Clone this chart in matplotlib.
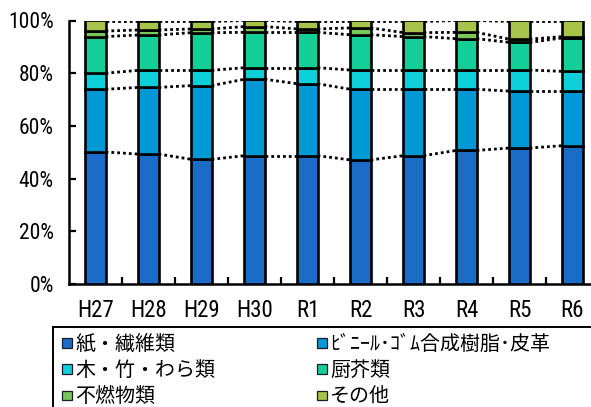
import matplotlib
matplotlib.use("Agg")
import matplotlib.pyplot as plt
from matplotlib.patches import Patch, Rectangle
import numpy as np

# Share of household waste by component (%), fiscal years H27 to R6
years = ["H27", "H28", "H29", "H30", "R1", "R2", "R3", "R4", "R5", "R6"]
paper = [50.1, 49.3, 47.3, 48.7, 48.7, 47.1, 48.7, 50.7, 51.6, 52.5]
vinyl = [23.8, 25.3, 28.0, 29.0, 27.3, 26.8, 25.2, 23.2, 21.6, 20.7]
wood = [6.1, 6.5, 5.8, 4.4, 6.1, 7.3, 7.3, 7.3, 8.0, 7.5]
kitchen = [13.9, 13.4, 14.3, 13.4, 13.4, 13.4, 12.7, 11.9, 10.5, 12.7]
incombustible = [2.1, 1.9, 1.4, 2.2, 1.3, 2.6, 1.5, 2.4, 1.2, 0.5]
other = [4.0, 3.6, 3.2, 2.3, 3.2, 2.8, 4.6, 4.5, 7.1, 6.1]

labels = ["紙・繊維類", "ﾋﾞﾆｰﾙ･ｺﾞﾑ合成樹脂･皮革", "木・竹・わら類",
          "厨芥類", "不燃物類", "その他"]
colors = ["#1A6CC6", "#0099D6", "#0CCFD9", "#13CE96", "#7AC75A", "#A6C34A"]

series = [paper, vinyl, wood, kitchen, incombustible, other]

W, H = 591, 407
fig = plt.figure(figsize=(W / 100, H / 100), dpi=100)
ax = fig.add_axes([69 / W, 1 - 284 / H, 530 / W, 263.5 / H])

tick_font = ["Roboto Condensed", "Open Sans Condensed", "DejaVu Sans"]
cjk_font = ["Noto Sans CJK JP", "DejaVu Sans"]

x = np.arange(len(years))
bw = 0.38
bottom = np.zeros(len(years))
tops = []
for vals, col, lab in zip(series, colors, labels):
    v = np.array(vals)
    ax.bar(x, v, bw, bottom=bottom, color=col, edgecolor="black",
           linewidth=1.9, label=lab, zorder=3)
    bottom = bottom + v
    tops.append(bottom.copy())

# dotted connectors between neighbouring bars at each boundary
for lvl in tops:
    for i in range(len(years) - 1):
        ax.plot([x[i] + bw / 2, x[i + 1] - bw / 2], [lvl[i], lvl[i + 1]],
                color="black", linewidth=2.0, linestyle=(0, (1, 1.1)),
                zorder=2, dash_capstyle="butt")

ax.set_xlim(-0.5, len(years) - 0.5)
ax.set_ylim(0, 100)
ax.set_yticks(np.arange(0, 101, 20))
ax.set_yticklabels([f"{v}%" for v in range(0, 101, 20)],
                   family=tick_font, fontsize=15.5, fontstretch="condensed")
ax.set_xticks(x)
ax.set_xticklabels(years, family=tick_font, fontsize=16.5,
                   fontstretch="condensed")
ax.set_xticks(x[:-1] + 0.5, minor=True)
ax.tick_params(axis="x", which="major", length=0, pad=11)
ax.tick_params(axis="x", which="minor", direction="in", length=5, width=1.6)
ax.tick_params(axis="y", direction="in", length=5, width=1.6, pad=11)

for s in ["top", "right"]:
    ax.spines[s].set_visible(False)
for s in ["left", "bottom"]:
    ax.spines[s].set_linewidth(1.8)

# legend frame and entries
fig.patches.append(Rectangle((52.5 / W, -0.1), 1.2, (1 - 327 / H) + 0.1,
                             transform=fig.transFigure, fill=False,
                             edgecolor="black", linewidth=1.4))
handles = [Patch(facecolor=c, edgecolor="#1a1a2e", linewidth=0.9) for c in colors]
order = [0, 2, 4, 1, 3, 5]
leg = fig.legend([handles[i] for i in order], [labels[i] for i in order],
                 ncol=2, loc="upper left",
                 bbox_to_anchor=(62 / W, 1 - 334 / H),
                 frameon=False, prop={"family": cjk_font, "size": 14.4},
                 handlelength=0.5, handleheight=0.35, handletextpad=0.15,
                 columnspacing=5.1, labelspacing=0.26, borderpad=0,
                 borderaxespad=0)

fig.savefig("out.png", dpi=100)
